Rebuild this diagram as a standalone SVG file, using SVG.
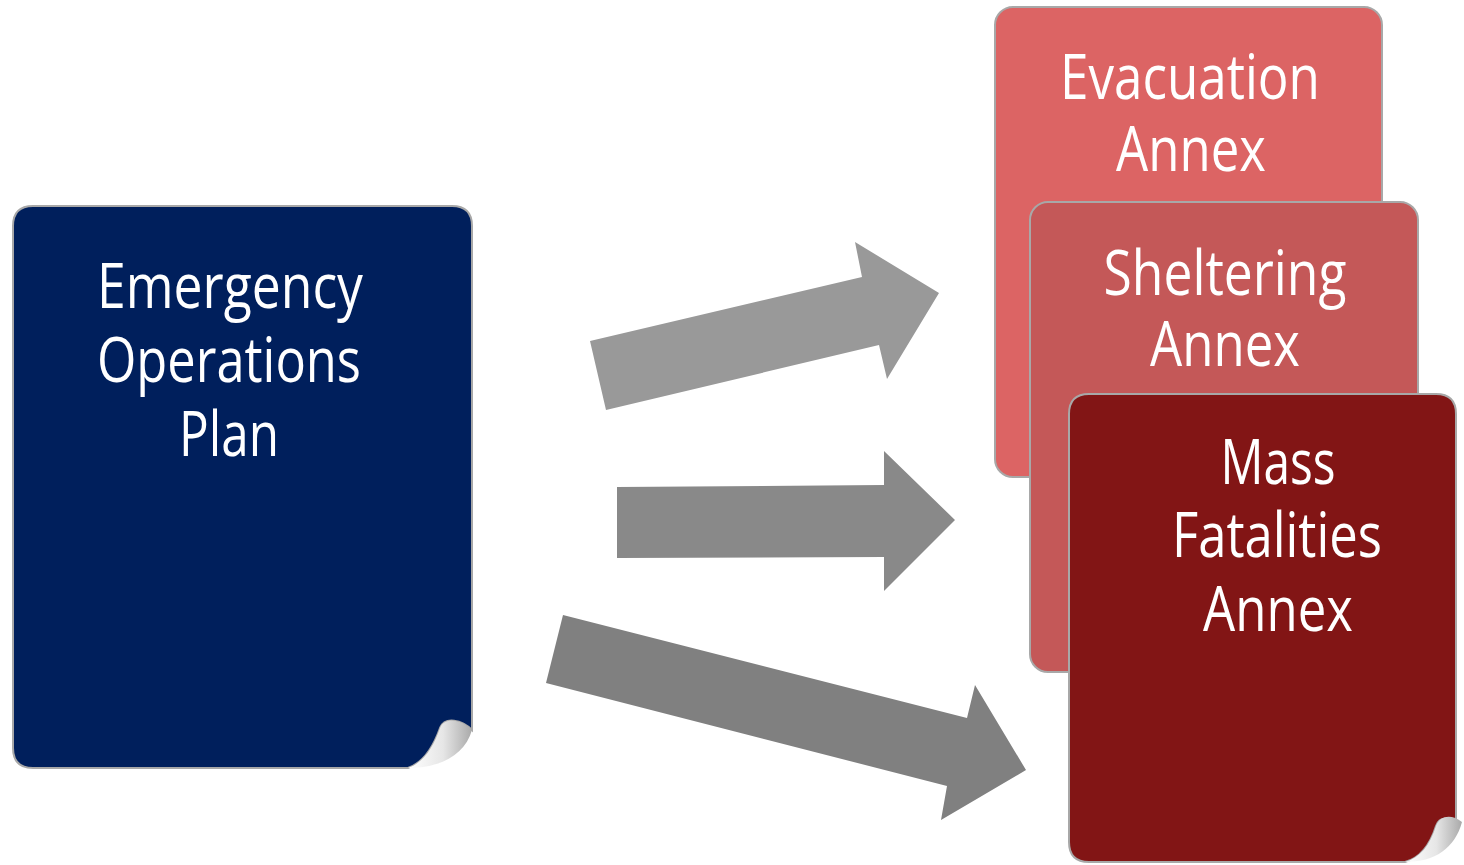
<svg xmlns="http://www.w3.org/2000/svg" width="1464" height="865" viewBox="0 0 1464 865">
<style>
.lbl{font-family:"Open Sans","Noto Sans","Liberation Sans",sans-serif;font-size:62px;fill:#ffffff;text-anchor:middle}
.box{stroke:#a8a8a8;stroke-width:2}
</style>
<defs>
<linearGradient id="curl" x1="0" y1="0" x2="1" y2="0">
<stop offset="0" stop-color="#ffffff"/>
<stop offset="0.55" stop-color="#e6e6e6"/>
<stop offset="1" stop-color="#a9a9a9"/>
</linearGradient>
</defs>
<rect width="1464" height="865" fill="#ffffff"/>
<g id="connectors">
<polygon points="590,341 862,277 855,242 939,293 887,379 879,345 606,410" fill="#999999"/>
<polygon points="617,487 884,485 884,451 955,520 884,591 884,557 617,558" fill="#898989"/>
<polygon points="563,615 967,718 975,685 1026,770 941,820 947,786 546,683" fill="#808080"/>
</g>
<g id="node-eop">
<path class="box" d="M33,206 H452 Q472,206 472,226 V730 C462,720 445,716 440,728 C434,745 425,762 408,768 H33 Q13,768 13,748 V226 Q13,206 33,206 Z" fill="#001F5C"/>
<path d="M472,730 C462,720 445,716 440,728 C434,745 425,762 408,768 C440,768 465,755 472,730 Z" fill="url(#curl)"/>
<text class="lbl" x="230" y="308" textLength="266" lengthAdjust="spacingAndGlyphs">Emergency</text>
<text class="lbl" x="229" y="382" textLength="264" lengthAdjust="spacingAndGlyphs">Operations</text>
<text class="lbl" x="229" y="456" textLength="100" lengthAdjust="spacingAndGlyphs">Plan</text>
</g>
<g id="node-evacuation">
<rect class="box" x="995" y="7" width="387" height="470" rx="18" fill="#DC6464"/>
<text class="lbl" x="1190" y="99" textLength="260" lengthAdjust="spacingAndGlyphs">Evacuation</text>
<text class="lbl" x="1191" y="171" textLength="150" lengthAdjust="spacingAndGlyphs">Annex</text>
</g>
<g id="node-sheltering">
<rect class="box" x="1030" y="202" width="388" height="470" rx="18" fill="#C45858"/>
<text class="lbl" x="1225" y="295" textLength="243" lengthAdjust="spacingAndGlyphs">Sheltering</text>
<text class="lbl" x="1225" y="366" textLength="150" lengthAdjust="spacingAndGlyphs">Annex</text>
</g>
<g id="node-mass">
<path class="box" d="M1089,394 H1436 Q1456,394 1456,414 V825 C1450,818 1440,815 1436,826 C1430,845 1420,858 1405,862 H1089 Q1069,862 1069,842 V414 Q1069,394 1089,394 Z" fill="#821515"/>
<path d="M1462,822 C1452,814 1440,815 1436,826 C1430,845 1420,858 1405,862 C1435,862 1455,848 1462,822 Z" fill="url(#curl)"/>
<text class="lbl" x="1278" y="484" textLength="115" lengthAdjust="spacingAndGlyphs">Mass</text>
<text class="lbl" x="1277" y="557" textLength="210" lengthAdjust="spacingAndGlyphs">Fatalities</text>
<text class="lbl" x="1278" y="631" textLength="150" lengthAdjust="spacingAndGlyphs">Annex</text>
</g>
</svg>
